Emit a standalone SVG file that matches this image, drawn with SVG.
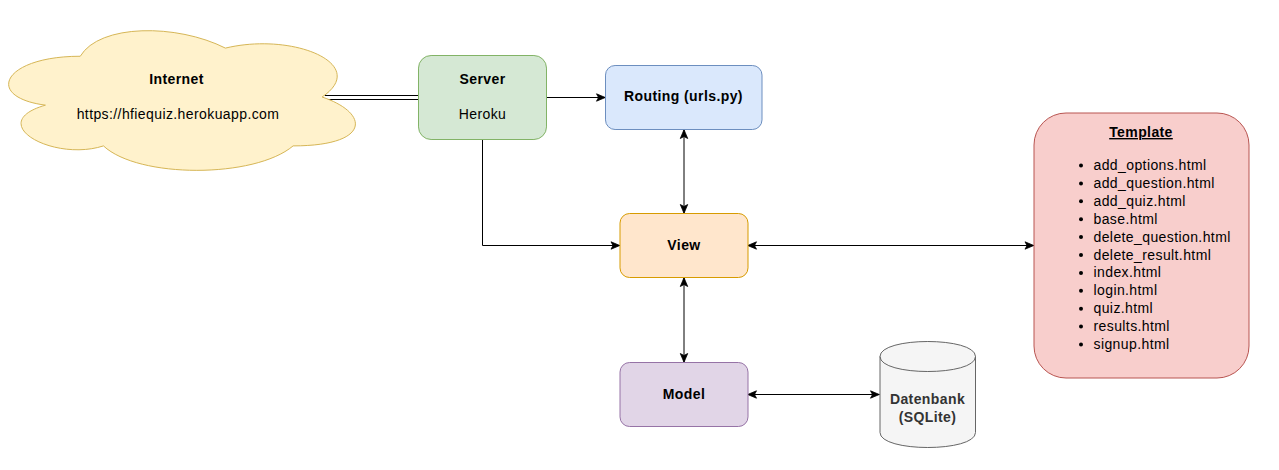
<svg xmlns="http://www.w3.org/2000/svg" width="1279" height="470" viewBox="0 0 1279 470">
<style>
text{font-family:"Liberation Sans",Arial,sans-serif;font-size:14px;letter-spacing:.4px;fill:#000}
.c{text-anchor:middle}
.b{font-weight:bold}
.e{fill:none;stroke:#000;stroke-width:1}
.a{marker-end:url(#arr)}
.d{marker-start:url(#arr);marker-end:url(#arr)}
</style>
<defs>
<marker id="arr" markerUnits="userSpaceOnUse" markerWidth="12" markerHeight="12" refX="11" refY="6" orient="auto-start-reverse" viewBox="0 0 12 12">
<path d="M10.800 6L2 2.300L4 6L2 9.700Z" fill="#000" stroke="#000" stroke-width=".8"/>
</marker>
</defs>
<rect width="1279" height="470" fill="#fff"/>
<g id="connectors">
<path d="M325 97.500H418.500" fill="none" stroke="#000" stroke-width="5"/>
<path d="M325 97.500H418.500" fill="none" stroke="#fff" stroke-width="3"/>
<path class="e a" d="M546.500 97.500H605.500"/>
<path class="e a" d="M482.500 139.500V245.500H620"/>
<path class="e d" d="M684 129.500V213.500"/>
<path class="e d" d="M747.500 245.500H1034"/>
<path class="e d" d="M684 277.500V362.500"/>
<path class="e d" d="M747.500 394.500H879.500"/>
</g>
<g id="internet">
<path transform="translate(.5 .5)" d="M79.750 55.750C2.350 55.750-17 96.500 44.920 104.650C-17 122.580 52.660 161.700 102.970 145.400C137.800 178 253.900 178 292.600 145.400C370 145.400 370 112.800 321.600 96.500C370 63.900 292.600 31.300 224.900 47.600C176.500 23.150 99.100 23.150 79.750 55.750Z" fill="#fff2cc" stroke="#d6b656"/>
<text class="c b" x="176.500" y="84">Internet</text>
<text class="c" x="178" y="119">https://hfiequiz.herokuapp.com</text>
</g>
<g id="server">
<rect x="418.500" y="55.500" width="128" height="84" rx="12.600" fill="#d5e8d4" stroke="#82b366"/>
<text class="c b" x="482.500" y="84">Server</text>
<text class="c" x="482.500" y="119">Heroku</text>
</g>
<g id="routing">
<rect x="605.500" y="65.500" width="156.500" height="64" rx="9.600" fill="#dae8fc" stroke="#6c8ebf"/>
<text class="c b" x="683.500" y="101">Routing (urls.py)</text>
</g>
<g id="view">
<rect x="620" y="213.500" width="128" height="64" rx="9.600" fill="#ffe6cc" stroke="#d79b00"/>
<text class="c b" x="684" y="250">View</text>
</g>
<g id="model">
<rect x="620" y="362.500" width="128" height="64" rx="9.600" fill="#e1d5e7" stroke="#9673a6"/>
<text class="c b" x="684" y="399">Model</text>
</g>
<g id="database">
<path d="M880 356.500C880 336.500 975.500 336.500 975.500 356.500V432.500C975.500 452.500 880 452.500 880 432.500Z" fill="#f5f5f5" stroke="#666"/>
<path d="M880 356.500C880 376.500 975.500 376.500 975.500 356.500" fill="none" stroke="#666"/>
<text class="c b" x="927.500" y="404" style="fill:#333">Datenbank</text>
<text class="c b" x="927.500" y="422" style="fill:#333">(SQLite)</text>
</g>
<g id="template">
<rect x="1034" y="113" width="215" height="265" rx="32" fill="#f8cecc" stroke="#b85450"/>
<text class="c b" x="1141" y="137" text-decoration="underline">Template</text>
<g fill="#000">
<circle cx="1081" cy="165.500" r="2"/><circle cx="1081" cy="183.400" r="2"/><circle cx="1081" cy="201.300" r="2"/><circle cx="1081" cy="219.200" r="2"/><circle cx="1081" cy="237.100" r="2"/><circle cx="1081" cy="255" r="2"/><circle cx="1081" cy="272.900" r="2"/><circle cx="1081" cy="290.800" r="2"/><circle cx="1081" cy="308.700" r="2"/><circle cx="1081" cy="326.600" r="2"/><circle cx="1081" cy="344.500" r="2"/>
</g>
<text x="1093.500" y="170">add_options.html</text>
<text x="1093.500" y="188">add_question.html</text>
<text x="1093.500" y="206">add_quiz.html</text>
<text x="1093.500" y="224">base.html</text>
<text x="1093.500" y="242">delete_question.html</text>
<text x="1093.500" y="260">delete_result.html</text>
<text x="1093.500" y="277">index.html</text>
<text x="1093.500" y="295">login.html</text>
<text x="1093.500" y="313">quiz.html</text>
<text x="1093.500" y="331">results.html</text>
<text x="1093.500" y="349">signup.html</text>
</g>
</svg>
